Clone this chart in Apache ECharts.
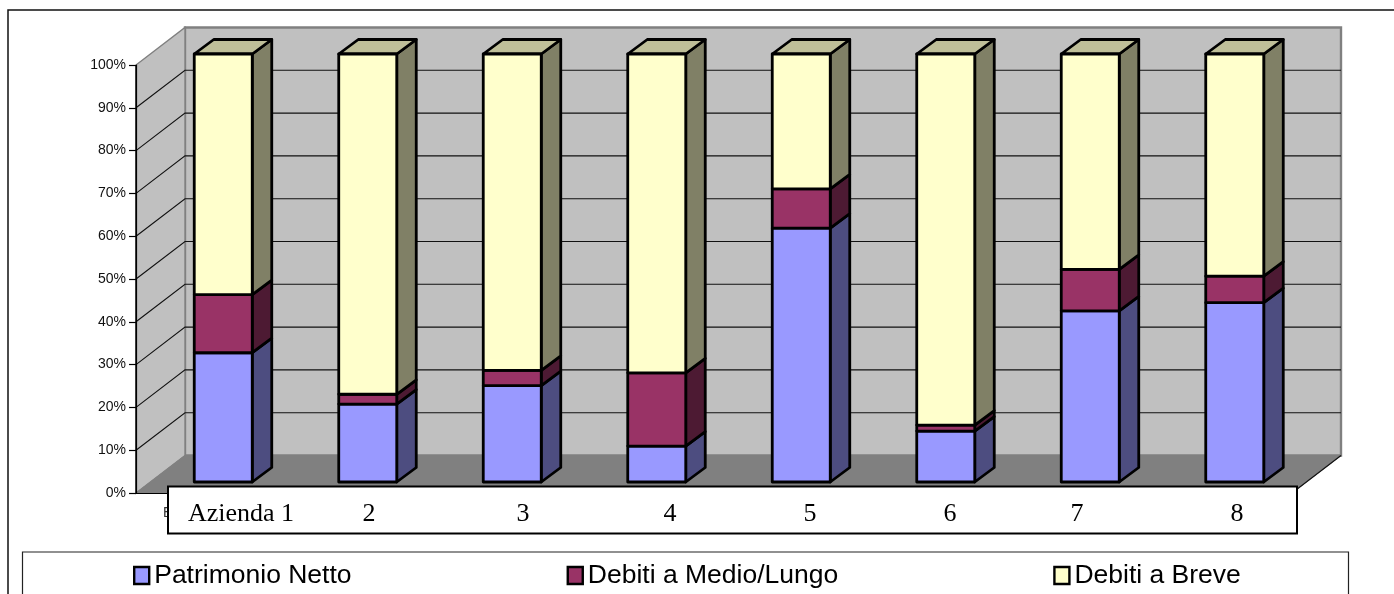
<!DOCTYPE html>
<html>
<head>
<meta charset="utf-8">
<title>Aziende</title>
<script src="https://cdn.jsdelivr.net/npm/echarts@6/dist/echarts.min.js"></script>
<style>
  html, body { margin: 0; padding: 0; background: #fff; overflow: hidden; }
  #grafica { width: 1394px; height: 594px; }
</style>
</head>
<body>
<div id="grafica"></div>
<script>
const categorie = ["Azienda 1", "2", "3", "4", "5", "6", "7", "8"];
const patrimonioNetto = [30.2, 18.2, 22.5, 8.4, 59.3, 11.9, 40.0, 41.9];
const debitiMedioLungo = [13.6, 2.3, 3.6, 17.1, 9.2, 1.4, 9.7, 6.2];
const debitiBreve = [56.2, 79.5, 73.9, 74.5, 31.5, 86.7, 50.3, 51.9];
const tickValori = [10, 20, 30, 40, 50, 60, 70, 80, 90];

// prospettiva finta del grafico 3D (pixel)
const muroDx = 49, muroDy = -37.5;
const barraOffX = 15, barraOffY = -11;
const barraMezza = 29;
const barraDx = 19.5, barraDy = -14.5;

const renderMuri = (params, api) => {
  const g = params.coordSys;
  const x0 = g.x, x1 = g.x + g.width;
  const yBase = g.y + g.height, yTop = g.y;
  const fondo = [x0 + muroDx, x1 + muroDx];
  const children = [
    { type: "polygon", shape: { points: [[fondo[0], yTop + muroDy], [fondo[1], yTop + muroDy], [fondo[1], yBase + muroDy], [fondo[0], yBase + muroDy]] },
      style: { fill: "#c0c0c0", stroke: "#808080", lineWidth: 2.4 } },
    { type: "polygon", shape: { points: [[x0, yTop], [fondo[0], yTop + muroDy], [fondo[0], yBase + muroDy], [x0, yBase]] },
      style: { fill: "#c0c0c0", stroke: "#808080", lineWidth: 1.4 } },
  ];
  tickValori.forEach((v) => {
    const y = api.coord([0, v])[1];
    children.push({ type: "polyline", shape: { points: [[x0, y], [fondo[0], y + muroDy], [fondo[1], y + muroDy]] },
      style: { fill: "none", stroke: "#111", lineWidth: 1.1 } });
  });
  children.push({ type: "polygon", shape: { points: [[x0, yBase], [fondo[0], yBase + muroDy], [fondo[1], yBase + muroDy], [x1, yBase]] },
    style: { fill: "#808080", stroke: "#808080", lineWidth: 1 } });
  children.push({ type: "line", shape: { x1: x1, y1: yBase, x2: fondo[1], y2: yBase + muroDy },
    style: { stroke: "#111", lineWidth: 1.2 } });
  // spigolo anteriore del muro laterale
  children.push({ type: "line", shape: { x1: x0, y1: yTop, x2: x0, y2: yBase },
    style: { stroke: "#000", lineWidth: 1.2 } });
  return { type: "group", children };
};

const renderBarra = (colori, conTetto) => (params, api) => {
  const c = api.coord([api.value(0), api.value(1)]);
  const t = api.coord([api.value(0), api.value(2)]);
  const xa = c[0] + barraOffX - barraMezza;
  const xb = c[0] + barraOffX + barraMezza;
  const yb = c[1] + barraOffY;
  const yt = t[1] + barraOffY;
  const bordo = { stroke: "#000", lineWidth: 2.8, lineJoin: "round" };
  const children = [
    { type: "polygon", shape: { points: [[xb, yt], [xb + barraDx, yt + barraDy], [xb + barraDx, yb + barraDy], [xb, yb]] },
      style: { fill: colori.lato, ...bordo } },
  ];
  if (conTetto) {
    children.push({ type: "polygon", shape: { points: [[xa, yt], [xa + barraDx, yt + barraDy], [xb + barraDx, yt + barraDy], [xb, yt]] },
      style: { fill: colori.tetto, ...bordo } });
  }
  children.push({ type: "polygon", shape: { points: [[xa, yt], [xb, yt], [xb, yb], [xa, yb]] },
    style: { fill: colori.fronte, ...bordo } });
  return { type: "group", children };
};

// base e cima cumulate per ogni azienda
const pila = (valori, sotto) =>
  valori.map((v, i) => {
    const base = sotto.reduce((s, a) => s + a[i], 0);
    return [i, base, base + v];
  });

const serieBarra = (name, valori, sotto, colori, conTetto) => ({
  name,
  type: "custom",
  z: 3,
  renderItem: renderBarra(colori, conTetto),
  encode: { x: 0, y: [1, 2] },
  itemStyle: { color: colori.fronte },
  data: pila(valori, sotto),
});

const testoBox = (text, x) => ({
  type: "text", z: 101, x, y: 514.5,
  style: { text, fill: "#000", font: '26px "Liberation Serif"', align: "center", verticalAlign: "middle" },
});

const getOptionChart = () => ({
  animation: false,
  grid: { left: 136, right: 102, top: 65, bottom: 101 },
  xAxis: {
    type: "category",
    z: 2,
    data: categorie,
    axisLine: { lineStyle: { color: "#000", width: 1.2 } },
    axisTick: { length: 7, lineStyle: { color: "#000", width: 1.2 } },
    axisLabel: { show: false },
  },
  yAxis: {
    type: "value",
    z: 2,
    min: 0,
    max: 100,
    interval: 10,
    axisLine: { show: true, lineStyle: { color: "#000", width: 1.2 } },
    axisTick: { show: true, length: 7, lineStyle: { color: "#000", width: 1.2 } },
    axisLabel: { formatter: "{value}%", margin: 10, color: "#111", fontFamily: "Liberation Sans", fontSize: 14 },
    splitLine: { show: false },
  },
  legend: {
    left: 133,
    top: 562,
    padding: 0,
    itemWidth: 15,
    itemHeight: 17,
    itemGap: 215,
    icon: "rect",
    selectedMode: false,
    textStyle: { color: "#000", fontFamily: "Liberation Sans", fontSize: 26.5 },
    data: [
      { name: "Patrimonio Netto", itemStyle: { color: "#9999ff", borderColor: "#000", borderWidth: 2.4 } },
      { name: "Debiti a Medio/Lungo", itemStyle: { color: "#993366", borderColor: "#000", borderWidth: 2.4 } },
      { name: "Debiti a Breve", itemStyle: { color: "#ffffcc", borderColor: "#000", borderWidth: 2.4 } },
    ],
  },
  graphic: [
    { type: "rect", z: 0, shape: { x: 8, y: 10, width: 1500, height: 700 }, style: { fill: "none", stroke: "#111", lineWidth: 1.5 } },
    { type: "rect", z: 0, shape: { x: 22.5, y: 552, width: 1326, height: 100 }, style: { fill: "#fff", stroke: "#222", lineWidth: 1.2 } },
    { type: "text", z: 99, x: 163, y: 513, style: { text: "E", fill: "#333", font: '14px "Liberation Sans"', verticalAlign: "middle" } },
    { type: "rect", z: 100, shape: { x: 168, y: 486.5, width: 1129, height: 47 }, style: { fill: "#fff", stroke: "#000", lineWidth: 2 } },
    testoBox(categorie[0], 241),
    testoBox(categorie[1], 369),
    testoBox(categorie[2], 523),
    testoBox(categorie[3], 670),
    testoBox(categorie[4], 810),
    testoBox(categorie[5], 950),
    testoBox(categorie[6], 1077),
    testoBox(categorie[7], 1237),
  ],
  series: [
    { type: "custom", z: -1, silent: true, renderItem: renderMuri, data: [[0, 0]] },
    serieBarra("Patrimonio Netto", patrimonioNetto, [], { fronte: "#9999ff", lato: "#4d4d80", tetto: "#b3b3ff" }, false),
    serieBarra("Debiti a Medio/Lungo", debitiMedioLungo, [patrimonioNetto], { fronte: "#993366", lato: "#4d1a33", tetto: "#b34d80" }, false),
    serieBarra("Debiti a Breve", debitiBreve, [patrimonioNetto, debitiMedioLungo], { fronte: "#ffffcc", lato: "#808066", tetto: "#bfbf99" }, true),
  ],
});

const chart = echarts.init(document.querySelector("#grafica"));
chart.setOption(getOptionChart());
</script>
</body>
</html>
